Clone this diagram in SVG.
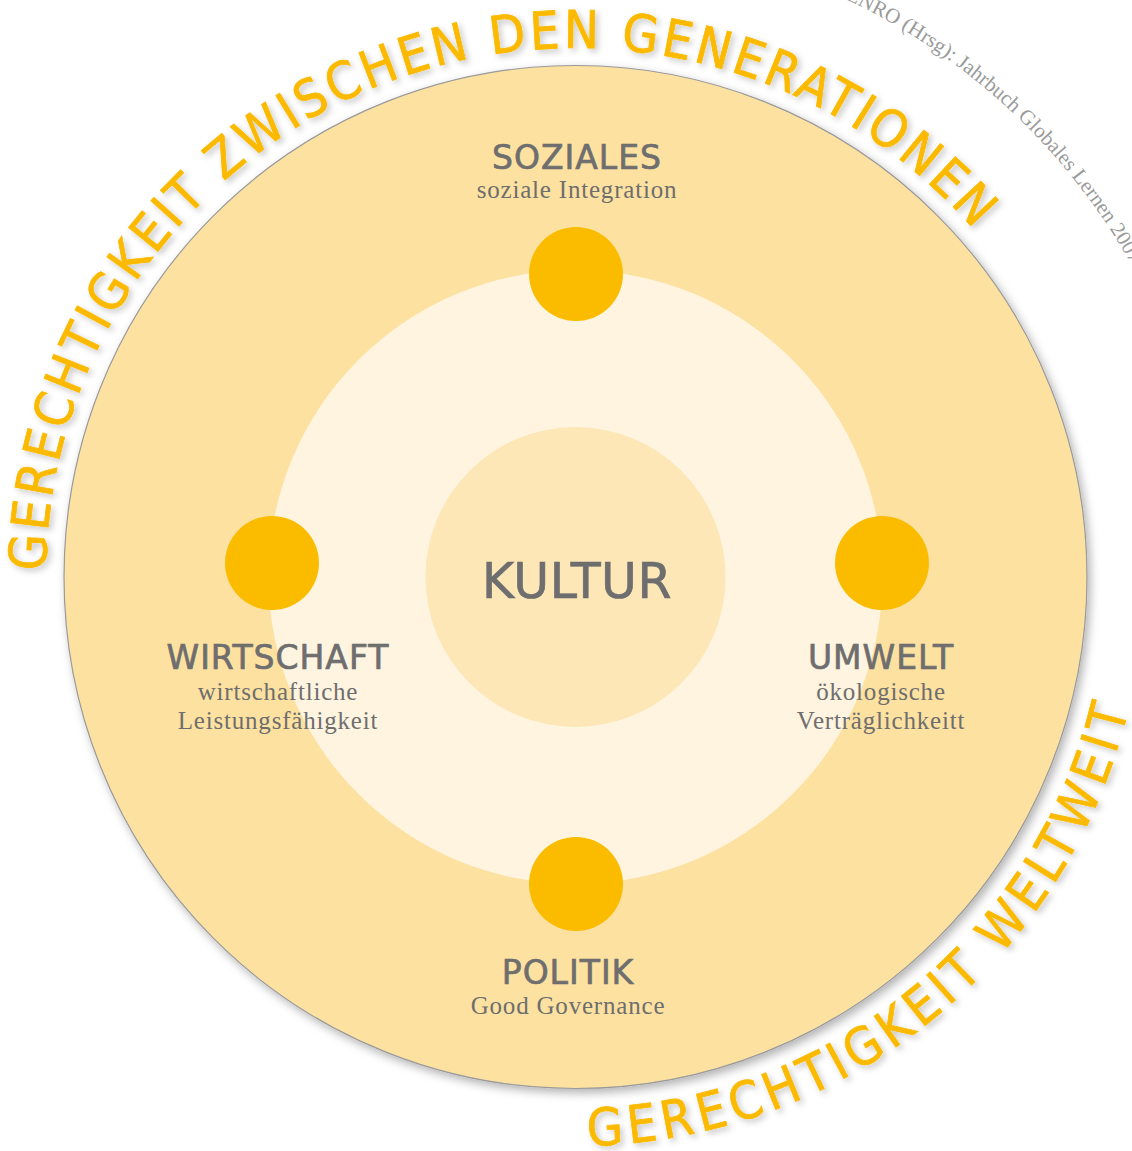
<svg xmlns="http://www.w3.org/2000/svg" width="1132" height="1151" viewBox="0 0 1132 1151">
<style>
.dot{fill:#FBBC00}
.head{font-family:"DejaVu Sans",sans-serif;font-size:33px;fill:#6E6E6E;stroke:#6E6E6E;stroke-width:0.7px;text-anchor:middle;letter-spacing:1px}
.sub{font-family:"Liberation Serif",serif;font-size:25px;fill:#6E6E6E;text-anchor:middle;letter-spacing:0.8px}
.arc{font-family:"DejaVu Sans Condensed","DejaVu Sans",sans-serif;font-size:52px;fill:#FBBA00;stroke:#FBBA00;stroke-width:0.8px}
.copy{font-family:"Liberation Serif",serif;font-size:21px;fill:#9A9A9A}
</style>
<defs>
<filter id="sh" x="-20%" y="-20%" width="140%" height="140%">
<feDropShadow dx="3" dy="4" stdDeviation="5" flood-color="#000" flood-opacity="0.3"/>
</filter>
<filter id="tsh" x="-10%" y="-10%" width="120%" height="120%">
<feDropShadow dx="3" dy="3" stdDeviation="3" flood-color="#000" flood-opacity="0.22"/>
</filter>
<path id="pTop" d="M46,577 A529,529 0 0 1 1033.1,312.5"/>
<path id="pBot" d="M476.2,1137.4 A569,569 0 0 0 1144,577"/>
<path id="pCopy" d="M740.1,-39.3 A638,638 0 0 1 1213,577"/>
</defs>
<rect width="1132" height="1151" fill="#FFFFFF"/>
<g id="rings">
<circle cx="575.5" cy="577" r="511.5" fill="#FDE1A0" stroke="#9A9A9A" stroke-width="1.2" filter="url(#sh)"/>
<circle cx="575.5" cy="577" r="307" fill="#FEF4E0"/>
</g>
<g id="arc-texts" filter="url(#tsh)">
<text class="arc"><textPath href="#pTop" startOffset="6" textLength="1276" lengthAdjust="spacing">GERECHTIGKEIT ZWISCHEN DEN GENERATIONEN</textPath></text>
<text class="arc"><textPath href="#pBot" startOffset="112" textLength="748" lengthAdjust="spacing">GERECHTIGKEIT WELTWEIT</textPath></text>
</g>
<text class="copy"><textPath href="#pCopy" startOffset="97">VENRO (Hrsg): Jahrbuch Globales Lernen 2007</textPath></text>
<g id="kultur">
<circle cx="575.5" cy="577" r="150" fill="#FDE7B7"/>
<text class="head" x="577" y="598" style="font-size:49px;letter-spacing:0.5px">KULTUR</text>
</g>
<g id="soziales">
<circle class="dot" cx="576" cy="274" r="47"/>
<text class="head" x="577" y="169">SOZIALES</text>
<text class="sub" x="577" y="198">soziale Integration</text>
</g>
<g id="wirtschaft">
<circle class="dot" cx="272" cy="563" r="47"/>
<text class="head" x="278" y="669">WIRTSCHAFT</text>
<text class="sub" x="278" y="700">wirtschaftliche</text>
<text class="sub" x="278" y="729">Leistungsfähigkeit</text>
</g>
<g id="umwelt">
<circle class="dot" cx="882" cy="563" r="47"/>
<text class="head" x="881" y="669">UMWELT</text>
<text class="sub" x="881" y="700">ökologische</text>
<text class="sub" x="881" y="729">Verträglichkeitt</text>
</g>
<g id="politik">
<circle class="dot" cx="576" cy="884" r="47"/>
<text class="head" x="568" y="984">POLITIK</text>
<text class="sub" x="568" y="1014">Good Governance</text>
</g>
</svg>
